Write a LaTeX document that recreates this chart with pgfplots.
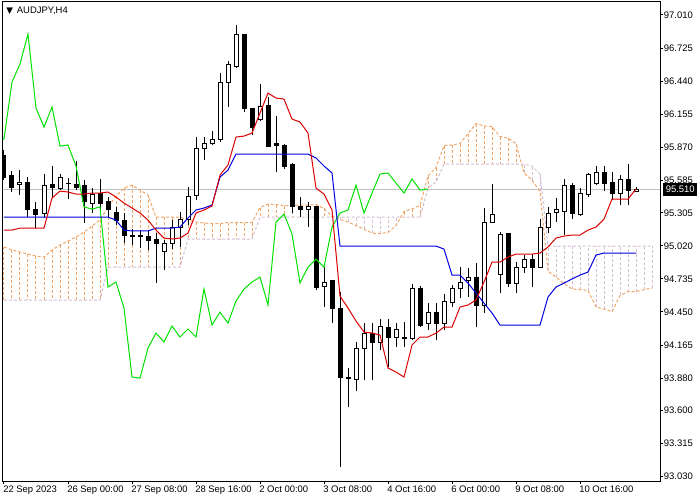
\documentclass[border=0pt]{standalone}
\usepackage{fontspec}
\setmainfont{Liberation Sans}
\newfontfamily\dejavu{DejaVu Sans}
\usepackage{pgfplots}
\usepackage{pgfplotstable}
\pgfplotsset{compat=1.18}

\definecolor{mtred}{RGB}{220,0,0}
\definecolor{mtblue}{RGB}{0,0,225}
\definecolor{mtgreen}{RGB}{0,225,0}
\definecolor{sandy}{RGB}{240,165,105}
\definecolor{thist}{RGB}{212,190,212}
\definecolor{bidgray}{RGB}{192,192,192}

\pgfplotstableread{
k o h l c
0 95.803 95.846 95.587 95.613
1 95.630 95.665 95.484 95.527
2 95.553 95.673 95.458 95.570
3 95.570 95.613 95.268 95.337
4 95.337 95.398 95.173 95.294
5 95.303 95.639 95.260 95.544
6 95.553 95.708 95.441 95.527
7 95.518 95.639 95.501 95.613
8 95.557 95.604 95.423 95.561
9 95.553 95.751 95.501 95.527
10 95.544 95.587 95.217 95.398
11 95.389 95.518 95.303 95.466
12 95.475 95.596 95.320 95.389
13 95.398 95.441 95.268 95.329
14 95.311 95.355 95.199 95.242
15 95.242 95.303 95.044 95.113
16 95.113 95.165 95.027 95.104
17 95.104 95.156 95.001 95.113
18 95.104 95.156 94.984 95.070
19 95.079 95.130 94.699 95.044
20 94.967 95.070 94.811 95.036
21 95.036 95.242 94.992 95.182
22 95.182 95.311 95.010 95.251
23 95.251 95.527 95.199 95.449
24 95.458 95.958 95.415 95.863
25 95.863 95.958 95.760 95.898
26 95.898 96.010 95.889 95.941
27 95.941 96.510 95.915 96.432
28 96.432 96.613 96.217 96.587
29 96.570 96.924 96.553 96.846
30 96.846 96.850 96.173 96.208
31 96.208 96.212 95.975 96.044
32 96.105 96.415 96.100 96.217
33 96.234 96.303 95.876 95.880
34 95.898 96.139 95.656 95.889
35 95.889 95.898 95.682 95.708
36 95.717 95.734 95.303 95.355
37 95.355 95.441 95.268 95.337
38 95.329 95.398 95.182 95.355
39 95.355 95.359 94.639 94.665
40 94.673 94.837 94.492 94.708
41 94.717 94.720 94.354 94.484
42 94.484 94.622 93.113 93.889
43 93.889 93.967 93.630 93.880
44 93.872 94.191 93.768 94.139
45 94.139 94.354 93.863 94.268
46 94.268 94.354 93.863 94.191
47 94.191 94.389 94.122 94.329
48 94.320 94.389 93.975 94.234
49 94.234 94.354 94.148 94.303
50 94.225 94.363 94.148 94.234
51 94.225 94.691 94.208 94.648
52 94.656 94.673 94.320 94.337
53 94.354 94.527 94.294 94.449
54 94.449 94.527 94.208 94.354
55 94.354 94.604 94.294 94.544
56 94.535 94.682 94.492 94.648
57 94.648 94.837 94.570 94.708
58 94.717 94.829 94.579 94.751
59 94.751 94.872 94.320 94.510
60 94.510 95.346 94.441 95.225
61 95.225 95.553 95.217 95.294
62 94.777 95.139 94.613 95.122
63 95.130 95.134 94.665 94.699
64 94.699 94.880 94.613 94.837
65 94.837 94.941 94.786 94.906
66 94.906 94.949 94.665 94.837
67 94.837 95.251 94.829 95.182
68 95.182 95.355 95.130 95.303
69 95.311 95.432 95.225 95.329
70 95.320 95.596 95.113 95.544
71 95.544 95.561 95.251 95.303
72 95.294 95.518 95.277 95.475
73 95.466 95.648 95.441 95.639
74 95.561 95.708 95.544 95.648
75 95.648 95.708 95.492 95.561
76 95.570 95.656 95.415 95.475
77 95.475 95.630 95.372 95.596
78 95.596 95.725 95.372 95.501
79 95.492 95.527 95.484 95.510
}\candles

\pgfplotstableread{
k t j
0 95.156 95.268
1 95.156 95.268
2 95.173 95.268
3 95.173 95.268
4 95.173 95.268
5 95.173 95.268
6 95.432 95.268
7 95.492 95.268
8 95.484 95.268
9 95.466 95.268
10 95.466 95.268
11 95.475 95.268
12 95.475 95.268
13 95.484 95.268
14 95.441 95.242
15 95.389 95.156
16 95.346 95.148
17 95.303 95.148
18 95.242 95.148
19 95.156 95.173
20 95.087 95.173
21 95.079 95.173
22 95.087 95.182
23 95.130 95.260
24 95.303 95.329
25 95.329 95.346
26 95.363 95.372
27 95.630 95.613
28 95.717 95.673
29 95.958 95.811
30 95.966 95.811
31 95.992 95.811
32 96.165 95.811
33 96.337 95.811
34 96.294 95.811
35 96.285 95.811
36 96.113 95.811
37 96.087 95.811
38 95.992 95.811
39 95.518 95.777
40 95.466 95.708
41 95.329 95.648
42 94.587 95.018
43 94.484 95.018
44 94.372 95.018
45 94.277 95.018
46 94.268 95.018
47 94.251 95.018
48 93.967 95.018
49 93.932 95.018
50 93.889 95.018
51 94.165 95.018
52 94.234 95.018
53 94.234 95.018
54 94.268 95.018
55 94.320 94.992
56 94.320 94.768
57 94.492 94.768
58 94.510 94.699
59 94.553 94.613
60 94.708 94.527
61 94.880 94.441
62 94.880 94.337
63 94.923 94.337
64 94.949 94.337
65 94.949 94.337
66 94.949 94.337
67 94.958 94.337
68 95.010 94.579
69 95.087 94.665
70 95.104 94.699
71 95.113 94.734
72 95.113 94.768
73 95.156 94.794
74 95.182 94.941
75 95.251 94.958
76 95.423 94.958
77 95.423 94.958
78 95.423 94.958
79 95.510 94.958
}\lines

% Senkou span A (a) and B (b), bars where A is above B
\pgfplotstableread{
k a b
0 95.010 94.553
1 94.984 94.553
2 94.967 94.553
3 94.949 94.553
4 94.932 94.553
5 94.923 94.553
6 94.984 94.553
7 95.027 94.553
8 95.061 94.553
9 95.096 94.553
10 95.139 94.553
11 95.191 94.553
12 95.242 94.553
13 95.355 94.837
14 95.449 94.837
15 95.518 94.837
16 95.544 94.837
17 95.501 94.837
18 95.458 94.837
19 95.268 94.837
20 95.268 94.837
21 95.268 94.837
22 95.268 94.837
23 95.242 95.079
24 95.225 95.079
25 95.217 95.079
26 95.212 95.079
27 95.212 95.079
28 95.221 95.079
29 95.221 95.079
30 95.221 95.079
31 95.221 95.079
32 95.350 95.268
33 95.380 95.268
34 95.376 95.268
35 95.367 95.268
36 95.367 95.268
37 95.372 95.268
38 95.372 95.268
39 95.376 95.268
40 95.342 95.268
41 95.273 95.268
50 95.316 95.268
51 95.338 95.268
52 95.368 95.268
53 95.622 95.518
54 95.695 95.570
55 95.885 95.725
56 95.889 95.725
57 95.902 95.725
58 95.988 95.725
59 96.074 95.725
60 96.053 95.725
61 96.048 95.725
62 95.962 95.725
63 95.949 95.725
64 95.902 95.725
}\cloudup

% bars where B is above A
\pgfplotstableread{
k a b
42 95.247 95.268
43 95.226 95.268
44 95.195 95.268
45 95.165 95.268
46 95.130 95.268
47 95.126 95.268
48 95.135 95.268
49 95.195 95.268
65 95.648 95.725
66 95.587 95.708
67 95.489 95.639
68 94.803 95.018
69 94.751 95.018
70 94.695 95.018
71 94.648 95.018
72 94.643 95.018
73 94.635 95.018
74 94.493 95.018
75 94.475 95.018
76 94.454 95.018
77 94.592 95.018
78 94.626 95.018
79 94.626 95.018
80 94.643 95.018
81 94.656 95.018
}\clouddown

% full Senkou lines
\pgfplotstableread{
k a b
0 95.010 94.553
1 94.984 94.553
2 94.967 94.553
3 94.949 94.553
4 94.932 94.553
5 94.923 94.553
6 94.984 94.553
7 95.027 94.553
8 95.061 94.553
9 95.096 94.553
10 95.139 94.553
11 95.191 94.553
12 95.242 94.553
13 95.355 94.837
14 95.449 94.837
15 95.518 94.837
16 95.544 94.837
17 95.501 94.837
18 95.458 94.837
19 95.268 94.837
20 95.268 94.837
21 95.268 94.837
22 95.268 94.837
23 95.242 95.079
24 95.225 95.079
25 95.217 95.079
26 95.212 95.079
27 95.212 95.079
28 95.221 95.079
29 95.221 95.079
30 95.221 95.079
31 95.221 95.079
32 95.350 95.268
33 95.380 95.268
34 95.376 95.268
35 95.367 95.268
36 95.367 95.268
37 95.372 95.268
38 95.372 95.268
39 95.376 95.268
40 95.342 95.268
41 95.273 95.268
42 95.247 95.268
43 95.226 95.268
44 95.195 95.268
45 95.165 95.268
46 95.130 95.268
47 95.126 95.268
48 95.135 95.268
49 95.195 95.268
50 95.316 95.268
51 95.338 95.268
52 95.368 95.268
53 95.622 95.518
54 95.695 95.570
55 95.885 95.725
56 95.889 95.725
57 95.902 95.725
58 95.988 95.725
59 96.074 95.725
60 96.053 95.725
61 96.048 95.725
62 95.962 95.725
63 95.949 95.725
64 95.902 95.725
65 95.648 95.725
66 95.587 95.708
67 95.489 95.639
68 94.803 95.018
69 94.751 95.018
70 94.695 95.018
71 94.648 95.018
72 94.643 95.018
73 94.635 95.018
74 94.493 95.018
75 94.475 95.018
76 94.454 95.018
77 94.592 95.018
78 94.626 95.018
79 94.626 95.018
80 94.643 95.018
81 94.656 95.018
}\cloud

\begin{document}
\begin{tikzpicture}[font=\fontsize{7.1}{8.5}\selectfont]
\begin{axis}[
  scale only axis, width=493pt, height=359.5pt,
  at={(0,0)}, anchor=south west,
  xmin=-0.1625, xmax=82, ymin=92.9928, ymax=97.1247,
  axis line style={black, line width=0.75pt},
  tick align=outside,
  xtick pos=left, ytick pos=right,
  yticklabel pos=right,
  xtick={0,8,16,24,32,40,48,56,64,72},
  xticklabels={22 Sep 2023, 26 Sep 00:00, 27 Sep 08:00, 28 Sep 16:00, 2 Oct 00:00, 3 Oct 08:00, 4 Oct 16:00, 6 Oct 00:00, 9 Oct 08:00, 10 Oct 16:00},
  ytick={93.030,93.315,93.600,93.880,94.165,94.450,94.735,95.020,95.305,95.585,95.870,96.155,96.440,96.725,97.010},
  yticklabels={93.030,93.315,93.600,93.880,94.165,94.450,94.735,95.020,95.305,95.585,95.870,96.155,96.440,96.725,97.010},
  major tick length=2.25pt,
  tick style={black, line width=0.75pt},
  xticklabel style={anchor=north west, inner sep=0pt, xshift=-0.75pt, yshift=-1pt},
  yticklabel style={anchor=west, inner sep=0pt, xshift=0.5pt},
  scaled y ticks=false,
]
% bid line
\addplot[bidgray, line width=0.75pt] coordinates {(-1,95.510) (83,95.510)};
% cloud hatch
\addplot[sandy, line width=0.75pt, dash pattern=on 2.25pt off 1.5pt,
  quiver={u=0, v=\thisrow{b}-\thisrow{a}}] table[x=k, y=a] {\cloudup};
\addplot[thist, line width=0.75pt, dash pattern=on 2.25pt off 1.5pt,
  quiver={u=0, v=\thisrow{b}-\thisrow{a}}] table[x=k, y=a] {\clouddown};
\addplot[sandy, line width=0.75pt, dash pattern=on 2.25pt off 1.5pt] table[x=k, y=a] {\cloud};
\addplot[thist, line width=0.75pt, dash pattern=on 2.25pt off 1.5pt] table[x=k, y=b] {\cloud};
% candles: wicks
\addplot[black, line width=0.75pt, quiver={u=0, v=\thisrow{h}-\thisrow{l}}] table[x=k, y=l] {\candles};
% bodies
\addplot[black, line width=3.75pt, shorten <=-0.375pt, shorten >=-0.375pt,
  quiver={u=0, v=\thisrow{c}-\thisrow{o}}] table[x=k, y=o] {\candles};
\addplot[white, line width=2.25pt, shorten <=0.375pt, shorten >=0.375pt,
  restrict expr to domain={\thisrow{c}-\thisrow{o}}{0.012:10},
  quiver={u=0, v=\thisrow{c}-\thisrow{o}}] table[x=k, y=o] {\candles};
% Ichimoku lines
\addplot[mtgreen, line width=0.75pt, restrict x to domain=-1:60] table[x expr=\thisrow{k}-26, y=c] {\candles};
\addplot[mtblue, line width=0.75pt] table[x=k, y=j] {\lines};
\addplot[mtred, line width=0.75pt] table[x=k, y=t] {\lines};
\coordinate (bidR) at (axis cs:82,95.510);
\node[anchor=west, inner sep=0pt] at (axis description cs:0.005,0.9815)
  {{\dejavu\fontsize{6.5}{6.5}\selectfont ▼}\hspace{3pt}AUDJPY,H4};
\end{axis}
\node[fill=black, text=white, anchor=west, inner xsep=1.9pt, inner ysep=0pt, minimum height=9.75pt] at ([xshift=2.2pt]bidR) {95.510};
\pgfresetboundingbox
\path (-2.025pt,-14.25pt) rectangle (523pt,360.775pt);
\end{tikzpicture}
\end{document}
